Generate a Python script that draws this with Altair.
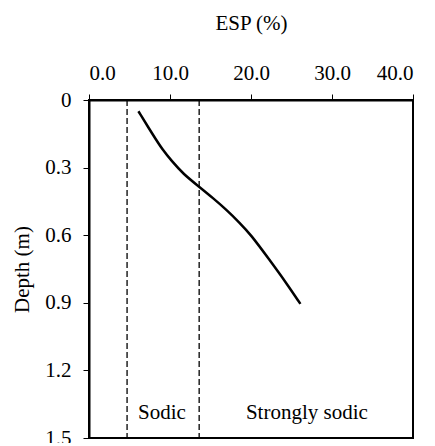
import altair as alt
import pandas as pd

# curve data (ESP %, depth m)
esp = [6.1, 7.9, 9.1, 10.2, 11.6, 13.6, 15.3, 17.0, 18.6, 19.9, 22.3, 24.4, 26.1]
depth = [0.05, 0.155, 0.222, 0.27, 0.327, 0.385, 0.435, 0.488, 0.545, 0.594, 0.71, 0.814, 0.905]

# class boundaries
bounds = [4.7, 13.6]

# labels
label_text = ["Sodic", "Strongly sodic"]
label_x = [9.0, 26.9]
label_y = [1.39, 1.39]

x_ticks = [0, 10, 20, 30, 40]
y_ticks = [0, 0.3, 0.6, 0.9, 1.2, 1.5]

FONT = "Liberation Serif"
FS = 21

curve = pd.DataFrame({"esp": esp, "depth": depth, "i": list(range(len(esp)))})
bdf = pd.DataFrame({"b": bounds})
ldf = pd.DataFrame({"t": label_text, "x": label_x, "y": label_y})

xscale = alt.Scale(domain=[0, 40], nice=False, zero=False)
yscale = alt.Scale(domain=[0, 1.5], reverse=True, nice=False, zero=False)

xaxis = alt.Axis(
    orient="top", title="ESP (%)", values=x_ticks, format=".1f",
    grid=False, domainColor="black", domainWidth=2, tickColor="black",
    tickSize=6, labelFontSize=FS, titleFontSize=FS, labelFont=FONT,
    titleFont=FONT, titleFontWeight="normal", labelColor="black",
    titleColor="black", labelPadding=11, titlePadding=29,
)
yaxis = alt.Axis(
    orient="left", title="Depth (m)", values=y_ticks,
    labelExpr="datum.value == 0 ? '0' : format(datum.value, '.1f')",
    grid=False, domainColor="black", domainWidth=2, tickColor="black",
    tickSize=6, labelFontSize=FS, titleFontSize=FS, labelFont=FONT,
    titleFont=FONT, titleFontWeight="normal", labelColor="black",
    titleColor="black", labelPadding=12, titlePadding=12,
)

line = alt.Chart(curve).mark_line(color="black", strokeWidth=2.5, interpolate="basis").encode(
    x=alt.X("esp:Q", scale=xscale, axis=xaxis),
    y=alt.Y("depth:Q", scale=yscale, axis=yaxis),
    order="i:Q",
)

rules = alt.Chart(bdf).mark_rule(color="black", strokeWidth=1.3, strokeDash=[6, 3]).encode(
    x=alt.X("b:Q", scale=xscale),
)

texts = alt.Chart(ldf).mark_text(font=FONT, fontSize=FS, color="black").encode(
    x=alt.X("x:Q", scale=xscale),
    y=alt.Y("y:Q", scale=yscale),
    text="t:N",
)

chart = alt.layer(rules, line, texts).properties(
    width=324, height=338,
    padding={"left": 81, "top": 92, "right": 10, "bottom": 5},
    autosize=alt.AutoSizeParams(type="none"),
).configure_view(stroke="black", strokeWidth=2)

chart.save("out.html", embed_options={"renderer": "svg", "actions": False})
